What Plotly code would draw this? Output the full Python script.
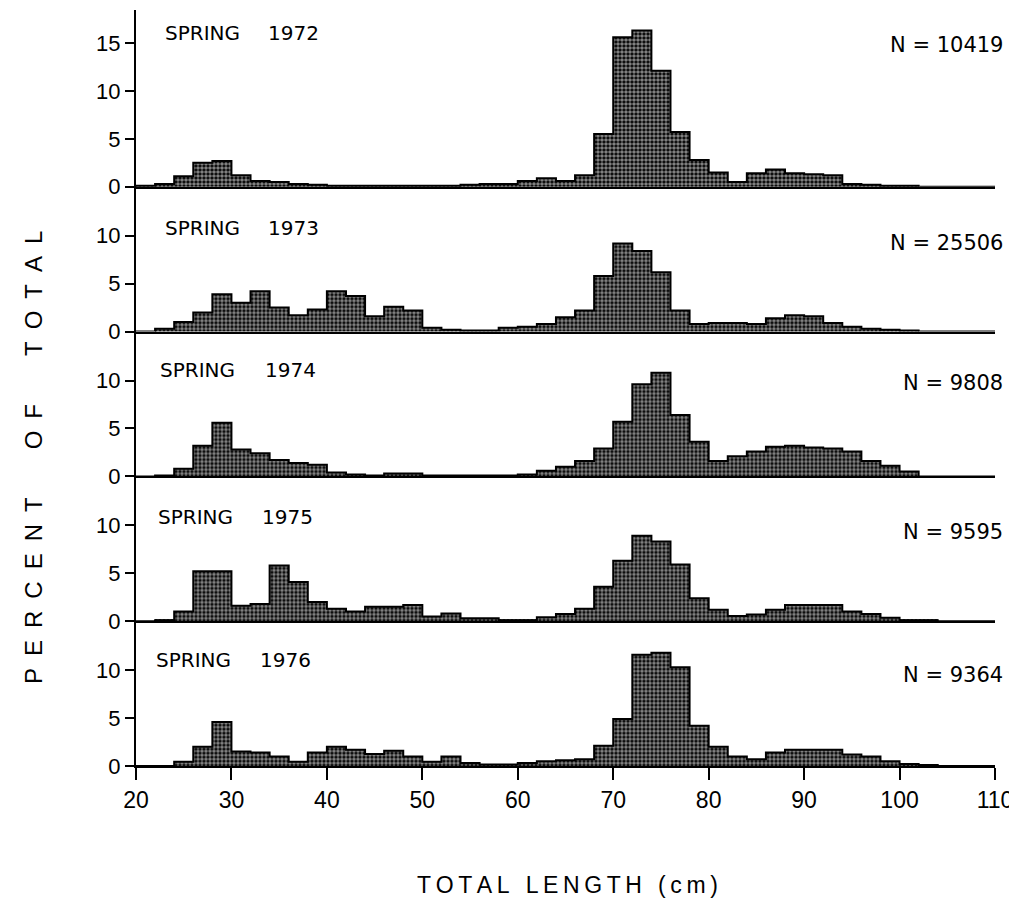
import plotly.graph_objects as go
from plotly.subplots import make_subplots

# ---------------- data ----------------
bin_starts = list(range(20, 110, 2))          # 2-cm length classes, 20-22 ... 108-110
bin_width = 2
years = ["1972", "1973", "1974", "1975", "1976"]
sample_sizes = ["10419", "25506", "9808", "9595", "9364"]

pct_1972 = [0.1, 0.3, 1.1, 2.5, 2.7, 1.2, 0.6, 0.5, 0.3, 0.2,
            0.1, 0.1, 0.1, 0.1, 0.1, 0.1, 0.1, 0.2, 0.3, 0.3,
            0.6, 0.9, 0.6, 1.2, 5.5, 15.6, 16.3, 12.1, 5.7, 2.8,
            1.5, 0.5, 1.4, 1.8, 1.4, 1.3, 1.2, 0.3, 0.2, 0.1,
            0.1, 0.0, 0.0, 0.0, 0.0]
pct_1973 = [0.0, 0.3, 1.0, 2.0, 3.9, 3.0, 4.2, 2.5, 1.7, 2.3,
            4.2, 3.7, 1.6, 2.6, 2.2, 0.4, 0.2, 0.1, 0.1, 0.4,
            0.5, 0.8, 1.5, 2.2, 5.8, 9.2, 8.4, 6.2, 2.2, 0.8,
            0.9, 0.9, 0.8, 1.4, 1.7, 1.6, 0.9, 0.5, 0.3, 0.2,
            0.1, 0.0, 0.0, 0.0, 0.0]
pct_1974 = [0.0, 0.1, 0.8, 3.2, 5.6, 2.8, 2.4, 1.7, 1.4, 1.2,
            0.4, 0.2, 0.1, 0.3, 0.3, 0.1, 0.1, 0.1, 0.1, 0.1,
            0.2, 0.6, 1.0, 1.6, 2.9, 5.7, 9.6, 10.8, 6.4, 3.6,
            1.6, 2.1, 2.6, 3.1, 3.2, 3.0, 2.9, 2.6, 1.6, 1.1,
            0.5, 0.0, 0.0, 0.0, 0.0]
pct_1975 = [0.0, 0.1, 1.0, 5.2, 5.2, 1.6, 1.8, 5.8, 4.1, 2.0,
            1.3, 1.0, 1.5, 1.5, 1.7, 0.5, 0.8, 0.3, 0.3, 0.1,
            0.1, 0.4, 0.75, 1.3, 3.6, 6.3, 8.9, 8.3, 5.9, 2.4,
            1.2, 0.55, 0.7, 1.2, 1.7, 1.7, 1.7, 1.0, 0.75, 0.35,
            0.1, 0.1, 0.0, 0.0, 0.0]
pct_1976 = [0.0, 0.0, 0.45, 2.0, 4.6, 1.5, 1.4, 1.0, 0.45, 1.4,
            2.0, 1.7, 1.25, 1.6, 1.0, 0.45, 1.0, 0.3, 0.15, 0.15,
            0.3, 0.5, 0.6, 0.7, 2.1, 4.9, 11.6, 11.8, 10.3, 4.2,
            2.0, 1.0, 0.7, 1.4, 1.7, 1.7, 1.7, 1.2, 1.0, 0.5,
            0.2, 0.1, 0.0, 0.0, 0.0]
series = [pct_1972, pct_1973, pct_1974, pct_1975, pct_1976]

x_ticks = list(range(20, 111, 10))
y_ticks_top = [0, 5, 10, 15]
y_ticks_other = [0, 5, 10]

# ---------------- layout geometry ----------------
W, H = 1017, 914
BODY = 8                      # default page margin of the html body
ML, MR, MT, MB = 128, 30, 2, 156
row_px = [177, 145, 145, 145, 145]
px_per_pct = 9.6

FONT = "Liberation Sans, Arial, sans-serif"
FONT2 = "DejaVu Sans, sans-serif"

fig = make_subplots(rows=5, cols=1, shared_xaxes=True, vertical_spacing=0,
                    row_heights=row_px)

centers = [b + bin_width / 2 for b in bin_starts]
for i, vals in enumerate(series):
    fig.add_trace(go.Bar(
        x=centers, y=vals, width=bin_width,
        marker=dict(color="black",
                    line=dict(color="black", width=0),
                    pattern=dict(shape=".", fgcolor="white", bgcolor="black",
                                 size=4, solidity=0.62)),
        showlegend=False, hoverinfo="skip"),
        row=i + 1, col=1)
    # stepped outline of the histogram
    xs = [bin_starts[0]] + bin_starts + [bin_starts[-1] + bin_width]
    ys = [0] + vals + [0]
    fig.add_trace(go.Scatter(x=xs, y=ys, mode="lines",
                             line=dict(color="black", width=2, shape="hv"),
                             showlegend=False, hoverinfo="skip"),
                  row=i + 1, col=1)

for i in range(5):
    r = i + 1
    top = row_px[i] / px_per_pct
    tv = y_ticks_top if i == 0 else y_ticks_other
    fig.update_yaxes(row=r, col=1, range=[0, top],
                     tickvals=tv, ticktext=[str(v) for v in tv],
                     ticks="outside", ticklen=9, tickwidth=2, tickcolor="black",
                     showline=True, linecolor="black", linewidth=2,
                     showgrid=False, zeroline=False,
                     tickfont=dict(family=FONT, size=22, color="black"))
    fig.update_xaxes(row=r, col=1, range=[20, 110],
                     showline=True, linecolor="black", linewidth=2,
                     showgrid=False, zeroline=False,
                     ticks="outside" if r == 5 else "",
                     tickvals=x_ticks, ticklen=12, tickwidth=2, tickcolor="black",
                     showticklabels=(r == 5),
                     tickfont=dict(family=FONT, size=23, color="black"))

def px_to_paper(xp, yp):
    return ((xp - BODY - ML) / (W - ML - MR),
            (H - MB - (yp - BODY)) / (H - MT - MB))

label_y = [33, 228, 370, 517, 660]
n_y = [45, 243, 383, 532, 675]
spring_x = [163, 163, 158, 156, 154]
year_x = [266, 266, 263, 260, 258]
ann = []
for i in range(5):
    x1, y1 = px_to_paper(spring_x[i], label_y[i])
    ann.append(dict(x=x1, y=y1, xref="paper", yref="paper", text="SPRING",
                    showarrow=False, xanchor="left", yanchor="middle",
                    font=dict(family=FONT2, size=20, color="black")))
    x2, _ = px_to_paper(year_x[i], label_y[i])
    ann.append(dict(x=x2, y=y1, xref="paper", yref="paper", text=years[i],
                    showarrow=False, xanchor="left", yanchor="middle",
                    font=dict(family=FONT2, size=20, color="black")))
    x3, y3 = px_to_paper(1005, n_y[i])
    ann.append(dict(x=x3, y=y3, xref="paper", yref="paper",
                    text="N = " + sample_sizes[i],
                    showarrow=False, xanchor="right", yanchor="middle",
                    font=dict(family=FONT2, size=21, color="black")))

# axis titles
ylab = "\u2002".join("PERCENT") + "\u2003\u2003" + "\u2002".join("OF") + "\u2003\u2003" + "\u2002".join("TOTAL")
xt, yt = px_to_paper(33, 458)
ann.append(dict(x=xt, y=yt, xref="paper", yref="paper", text=ylab, textangle=-90,
                showarrow=False, xanchor="center", yanchor="middle",
                font=dict(family=FONT, size=24, color="black")))
xlab = "\u2009".join("TOTAL") + "\u2002\u2009" + "\u2009".join("LENGTH") + "\u2002\u2009" + "\u2009".join("(cm)")
xt, yt = px_to_paper(567, 885)
ann.append(dict(x=xt, y=yt, xref="paper", yref="paper", text=xlab,
                showarrow=False, xanchor="center", yanchor="middle",
                font=dict(family=FONT, size=23, color="black")))

fig.update_layout(width=W, height=H, margin=dict(l=ML, r=MR, t=MT, b=MB),
                  paper_bgcolor="white", plot_bgcolor="white",
                  bargap=0, annotations=ann, showlegend=False)

fig.write_html("out.html")
